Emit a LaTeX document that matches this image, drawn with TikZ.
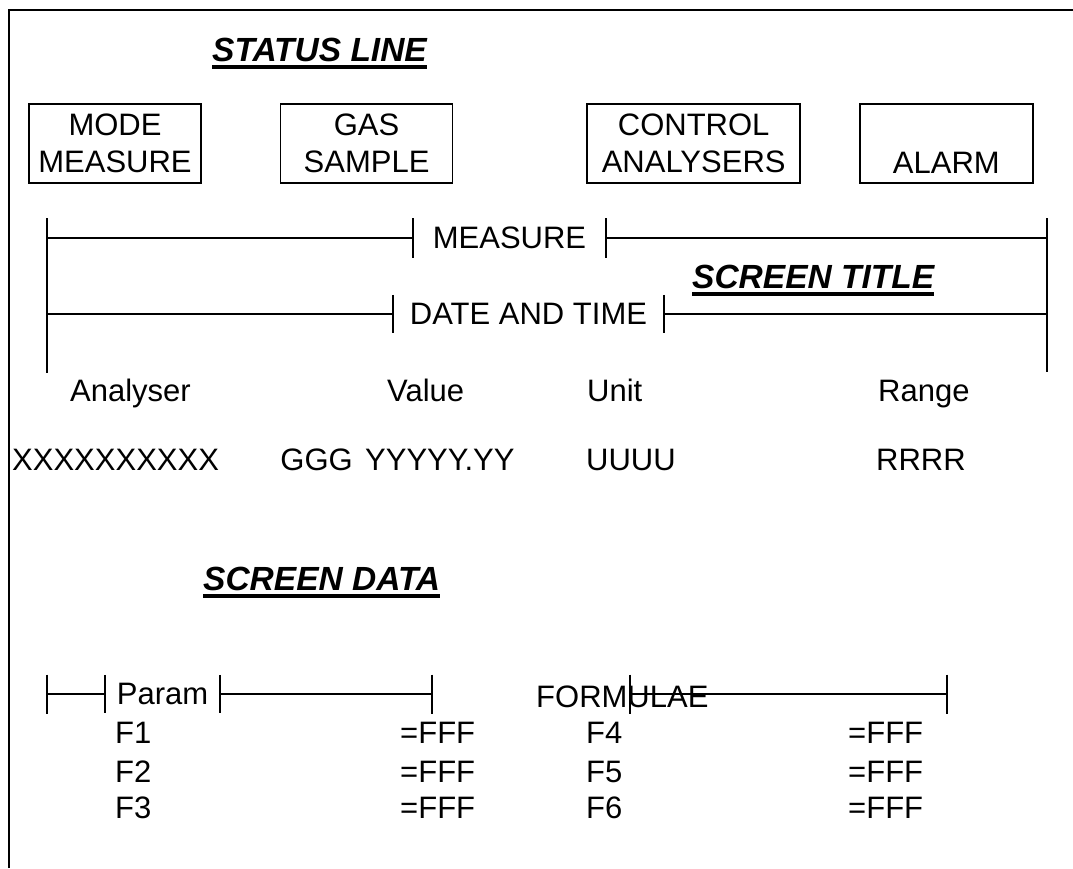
\documentclass[tikz,border=0pt]{standalone}
\usepackage{fontspec}
\setmainfont{Liberation Sans}
\usetikzlibrary{positioning, calc}
\tikzset{
  txt/.style={inner sep=0pt, anchor=base west, font=\fontsize{31}{37}\selectfont},
  heading/.style={txt, font=\fontsize{33.5}{37}\selectfont\bfseries\itshape},
  statbox/.style={draw, line width=1.6pt, minimum height=79pt, inner sep=0pt, align=center, font=\fontsize{31}{37}\selectfont},
  field/.style={inner sep=0pt, minimum height=39pt, font=\fontsize{31}{37}\selectfont},
  hline/.style={line width=1.5pt},
  uline/.style={line width=4pt},
}

\begin{document}
\begin{tikzpicture}[x=1pt, y=-1pt]
  \useasboundingbox (0,0) rectangle (1073,868);
  \fill[white] (0,0) rectangle (1073,868);
  \draw[line width=2.5pt] (9,868) -- (9,10) -- (1073,10);

  % status line
  \node[heading] (status) at (212,61) {STATUS LINE};
  \node[statbox, minimum width=172pt] (mode) at (115,143.5) {MODE\\MEASURE};
  \node[statbox, minimum width=172pt, right=78pt of mode] (gas) {GAS\\SAMPLE};
  \node[statbox, minimum width=213pt, right=133pt of gas] (ctrl) {CONTROL\\ANALYSERS};
  \node[statbox, minimum width=173pt, right=58pt of ctrl] (alarm) {\rule{0pt}{22pt}\\ALARM};

  % screen title
  \coordinate (tl) at (47,218);
  \coordinate (bl) at (47,373);
  \coordinate (tr) at (1047,218);
  \coordinate (br) at (1047,372);
  \draw[hline] (tl) -- (bl);
  \draw[hline] (tr) -- (br);
  \node[field, minimum width=193pt] (meas) at (509.5,238) {MEASURE};
  \node[field, minimum width=271pt, minimum height=38pt] (date) at (528.5,314) {DATE AND TIME};
  \foreach \n in {meas, date} {
    \draw[hline] (\n.north west) -- (\n.south west);
    \draw[hline] (\n.north east) -- (\n.south east);
    \draw[hline] (\n.west) -- (\n.west -| tl);
    \draw[hline] (\n.east) -- (\n.east -| tr);
  }
  \node[heading] (title) at (692,288) {SCREEN TITLE};

  % columns
  \node[txt] (analyser) at (70,401) {Analyser};
  \node[txt] (value) at (387,401) {Value};
  \node[txt] (unit) at (587,401) {Unit};
  \node[txt] (range) at (878,401) {Range};
  \node[txt] (xname) at (12,470) {XXXXXXXXXX};
  \node[txt, anchor=base east] (gname) at (353,470) {GGG};
  \node[txt] (yval) at (365,470) {YYYYY.YY};
  \node[txt] (uval) at (586,470) {UUUU};
  \node[txt] (rval) at (876,470) {RRRR};

  % screen data
  \node[heading] (sdata) at (203,590) {SCREEN DATA};
  \foreach \h in {status, title, sdata}
    \draw[uline] ($(\h.base west)+(0,6)$) -- ($(\h.base east)+(0,6)$);

  \coordinate (pl) at (47,694);
  \coordinate (pr) at (432,694);
  \node[field, minimum width=115pt, minimum height=38pt] (param) at (162.5,694) {Param};
  \draw[hline] (param.north west) -- (param.south west);
  \draw[hline] (param.north east) -- (param.south east);
  \draw[hline] (param.west) -- (pl);
  \draw[hline] (param.east) -- (pr);
  \node[txt] (formulae) at (536,707) {FORMULAE};
  \coordinate (fl) at (630,694);
  \coordinate (fr) at (947,694);
  \draw[hline] (fl) -- (fr);
  \foreach \c in {pl, pr, fl, fr}
    \draw[hline] ([yshift=19.5pt]\c) -- ([yshift=-19.5pt]\c);
  \foreach \i/\j/\y in {1/4/743, 2/5/782, 3/6/818} {
    \node[txt] (f\i) at (115,\y) {F\i};
    \node[txt] (v\i) at (400,\y) {=FFF};
    \node[txt] (f\j) at (586,\y) {F\j};
    \node[txt] (v\j) at (848,\y) {=FFF};
  }
\end{tikzpicture}
\end{document}
